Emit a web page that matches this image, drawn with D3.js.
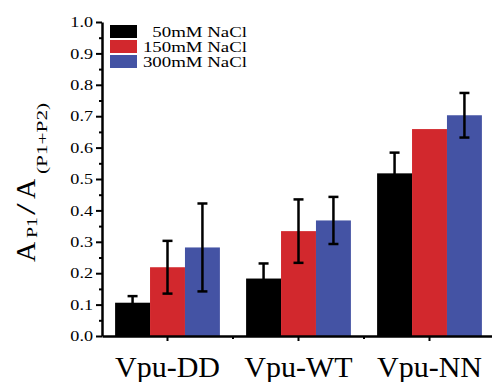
<!DOCTYPE html>
<html>
<head>
<meta charset="utf-8">
<script src="https://cdn.jsdelivr.net/npm/d3@7"></script>
<style>
  body { margin: 0; background: #fff; }
  svg text { font-family: "Liberation Serif", "DejaVu Serif", serif; fill: #000; }
</style>
</head>
<body>
<div id="app"></div>
<script>
// data
const groups = ['Vpu-DD', 'Vpu-WT', 'Vpu-NN'];
const seriesNames = ['50mM NaCl', '150mM NaCl', '300mM NaCl'];
const seriesColors = ['#000000', '#d2282d', '#4453a4'];

const values50 = [0.106, 0.183, 0.518];
const values150 = [0.219, 0.334, 0.659];
const values300 = [0.282, 0.368, 0.703];

const err50 = [0.021, 0.048, 0.066];
const err150 = [0.084, 0.101, 0];
const err300 = [0.140, 0.075, 0.071];

const yMajorTicks = [0, 0.1, 0.2, 0.3, 0.4, 0.5, 0.6, 0.7, 0.8, 0.9, 1.0];
const yMinorTicks = [0.05, 0.15, 0.25, 0.35, 0.45, 0.55, 0.65, 0.75, 0.85, 0.95];

const width = 492;
const height = 382;
const margin = { top: 22, bottom: 46, left: 102, right: -3 };
const textStretch = 1.25;

const allValues = [values50, values150, values300];
const allErrors = [err50, err150, err300];

const rows = [];
groups.forEach((g, gi) => {
  seriesNames.forEach((s, si) => {
    rows.push({ group: g, series: s, value: allValues[si][gi], err: allErrors[si][gi], color: seriesColors[si] });
  });
});

const svg = d3.select('#app')
  .append('svg')
  .attr('width', width)
  .attr('height', height);

const y = d3.scaleLinear()
  .domain([0, 1])
  .range([height - margin.bottom, margin.top]);

const x0 = d3.scaleBand()
  .domain(groups)
  .range([margin.left, width - margin.right])
  .paddingInner(0.2)
  .paddingOuter(0.1);

const x1 = d3.scaleBand()
  .domain(seriesNames)
  .range([0, x0.bandwidth()]);

// bars
svg.append('g')
  .selectAll('rect')
  .data(rows)
  .enter()
  .append('rect')
  .attr('x', d => x0(d.group) + x1(d.series))
  .attr('y', d => y(d.value))
  .attr('width', x1.bandwidth())
  .attr('height', d => y(0) - y(d.value))
  .attr('fill', d => d.color);

// error bars
const errG = svg.append('g')
  .attr('stroke', '#000')
  .attr('stroke-width', 2.5);

const errRows = rows.filter(d => d.err > 0);
const cx = d => x0(d.group) + x1(d.series) + x1.bandwidth() / 2;
const capHalf = 5;

errG.selectAll('line.stem')
  .data(errRows)
  .enter()
  .append('line')
  .attr('class', 'stem')
  .attr('x1', cx).attr('x2', cx)
  .attr('y1', d => y(d.value + d.err))
  .attr('y2', d => y(d.value - d.err));

errG.selectAll('line.capTop')
  .data(errRows)
  .enter()
  .append('line')
  .attr('class', 'capTop')
  .attr('x1', d => cx(d) - capHalf).attr('x2', d => cx(d) + capHalf)
  .attr('y1', d => y(d.value + d.err)).attr('y2', d => y(d.value + d.err));

errG.selectAll('line.capBot')
  .data(errRows)
  .enter()
  .append('line')
  .attr('class', 'capBot')
  .attr('x1', d => cx(d) - capHalf).attr('x2', d => cx(d) + capHalf)
  .attr('y1', d => y(d.value - d.err)).attr('y2', d => y(d.value - d.err));

// y axis
const yAxisG = svg.append('g')
  .attr('transform', `translate(${margin.left},0)`)
  .call(d3.axisLeft(y).tickValues(yMajorTicks).tickSize(6).tickSizeOuter(0).tickFormat(d3.format('.1f')));

yAxisG.select('.domain').attr('stroke-width', 2.5);
yAxisG.selectAll('.tick line').attr('stroke-width', 2);
yAxisG.selectAll('.tick text')
  .attr('x', -9 / textStretch)
  .attr('transform', `scale(${textStretch},1)`)
  .style('font-size', '14.5px')
  .style('font-family', '"Liberation Serif", serif')
  .attr('fill', '#333');

svg.append('g')
  .attr('transform', `translate(${margin.left},0)`)
  .call(d3.axisLeft(y).tickValues(yMinorTicks).tickSize(3).tickFormat(''))
  .call(g => g.select('.domain').remove())
  .selectAll('.tick line').attr('stroke-width', 2);

// x axis
const xAxisG = svg.append('g')
  .attr('transform', `translate(0,${y(0)})`)
  .call(d3.axisBottom(x0).tickSize(5).tickSizeOuter(0));

xAxisG.select('.domain').attr('stroke-width', 2.5);
xAxisG.selectAll('.tick line').attr('stroke-width', 2);
xAxisG.selectAll('.tick text')
  .attr('y', 0)
  .attr('dy', 41)
  .style('font-size', '30px')
  .style('font-family', '"Liberation Serif", serif');

// minor x ticks between groups
const xMinor = groups.slice(1).map(g => x0(g) - x0.step() * x0.paddingInner() / 2);
svg.append('g')
  .selectAll('line')
  .data(xMinor)
  .enter()
  .append('line')
  .attr('x1', d => d).attr('x2', d => d)
  .attr('y1', y(0)).attr('y2', y(0) + 3)
  .attr('stroke', '#000')
  .attr('stroke-width', 2);

// legend
const legend = svg.append('g').attr('transform', 'translate(110,25)');
seriesNames.forEach((s, i) => {
  const row = legend.append('g').attr('transform', `translate(0,${i * 15})`);
  row.append('rect')
    .attr('width', 27)
    .attr('height', 13)
    .attr('fill', seriesColors[i]);
  row.append('text')
    .attr('transform', `translate(137,11.5) scale(1.3,1)`)
    .attr('text-anchor', 'end')
    .style('font-size', '14.5px')
    .text(s);
});

// y title  A_P1 / A_(P1+P2), pieces laid out along the rotated baseline
const yTitle = svg.append('g')
  .attr('transform', 'translate(35,262) rotate(-90)');
const titleParts = [
  { t: 'A', u: 0, v: 0, size: 28, sx: 1 },
  { t: 'P1', u: 24, v: 2, size: 15, sx: 1.33 },
  { t: '/', u: 47, v: 0, size: 28, sx: 1.5 },
  { t: 'A', u: 63, v: 0, size: 28, sx: 1 },
  { t: '(P1+P2)', u: 88, v: 12, size: 15, sx: 1.42 }
];
yTitle.selectAll('text')
  .data(titleParts)
  .enter()
  .append('text')
  .attr('transform', d => `translate(${d.u},${d.v}) scale(${d.sx},1)`)
  .style('font-size', d => d.size + 'px')
  .text(d => d.t);
</script>
</body>
</html>
